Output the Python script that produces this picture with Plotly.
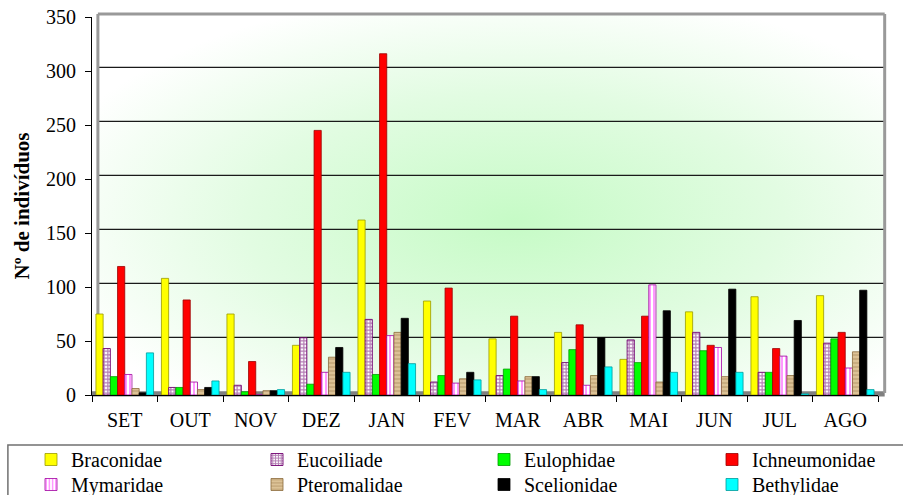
import base64
import plotly.graph_objects as go

months = ["SET", "OUT", "NOV", "DEZ", "JAN", "FEV", "MAR", "ABR", "MAI", "JUN", "JUL", "AGO"]

braconidae    = [75, 108, 75, 46, 162, 87, 52, 58, 33, 77, 91, 92]
eucoiliade    = [43, 7, 9, 53, 70, 12, 18, 30, 51, 58, 21, 48]
eulophidae    = [17, 7, 3, 10, 19, 18, 24, 42, 30, 41, 21, 52]
ichneumonidae = [119, 88, 31, 245, 316, 99, 73, 65, 73, 46, 43, 58]
mymaridae     = [19, 12, 0, 21, 55, 11, 13, 9, 102, 44, 36, 25]
pteromalidae  = [6, 5, 4, 35, 58, 15, 17, 18, 12, 17, 18, 40]
scelionidae   = [2, 7, 4, 44, 71, 21, 17, 53, 78, 98, 69, 97]
bethylidae    = [39, 13, 5, 21, 29, 14, 5, 26, 21, 21, 1, 5]

series = [
    ("Braconidae", braconidae, dict(color="#FFFF00", line=dict(color="#9A9A00", width=0.8))),
    ("Eucoiliade", eucoiliade, dict(color="white", line=dict(color="#700070", width=0.9),
                                    pattern=dict(shape="+", fgcolor="#6A006A", bgcolor="white", size=3.5, solidity=0.6))),
    ("Eulophidae", eulophidae, dict(color="#00FF00", line=dict(color="#009A00", width=0.8))),
    ("Ichneumonidae", ichneumonidae, dict(color="#FF0000", line=dict(color="#9A0000", width=0.8))),
    ("Mymaridae", mymaridae, dict(color="white", line=dict(color="#A000A0", width=0.8),
                                  pattern=dict(shape="|", fgcolor="#FF00FF", bgcolor="white", size=4, solidity=0.4))),
    ("Pteromalidae", pteromalidae, dict(color="#D8BC8C", line=dict(color="#8A6A3A", width=0.8),
                                        pattern=dict(shape="-", fgcolor="#9C7C4C", bgcolor="#DCC296", size=4, solidity=0.3))),
    ("Scelionidae", scelionidae, dict(color="#000000", line=dict(color="#000000", width=0.8))),
    ("Bethylidae", bethylidae, dict(color="#00FFFF", line=dict(color="#009A9A", width=0.8))),
]

legend_ids = ["legend"] + ["legend%d" % i for i in range(2, 9)]

fig = go.Figure()
for (name, vals, marker), lg in zip(series, legend_ids):
    fig.add_trace(go.Bar(name=name, x=months, y=vals, marker=marker, legend=lg))

svg = ("<svg xmlns='http://www.w3.org/2000/svg' width='786' height='378' preserveAspectRatio='none'>"
       "<defs><radialGradient id='g' cx='0.53' cy='0.55' r='0.62'>"
       "<stop offset='0' stop-color='#c6fbc6'/><stop offset='0.55' stop-color='#e2fce2'/>"
       "<stop offset='1' stop-color='#ffffff'/></radialGradient></defs>"
       "<rect width='100%' height='100%' fill='url(#g)'/></svg>")
src = "data:image/svg+xml;base64," + base64.b64encode(svg.encode()).decode()

XR = 1.0085   # right wall (paper)
XL = 0.0075   # left wall (paper)
shapes = []
shapes.append(dict(type="rect", xref="paper", yref="paper", x0=0.0, x1=XR, y0=-0.004, y1=0.010,
                   fillcolor="#808080", line=dict(width=0), layer="below"))
for v in [50, 100, 150, 200, 250, 300]:
    shapes.append(dict(type="line", xref="paper", yref="y", x0=XL, x1=XR, y0=v + 3.3, y1=v + 3.3,
                       line=dict(color="#1a1a1a", width=1.3), layer="below"))
shapes.append(dict(type="line", xref="paper", yref="paper", x0=XL, x1=XR, y0=1.008, y1=1.008,
                   line=dict(color="#999999", width=3), layer="below"))
shapes.append(dict(type="line", xref="paper", yref="paper", x0=XL, x1=XL, y0=0.005, y1=1.008,
                   line=dict(color="#999999", width=3), layer="below"))
shapes.append(dict(type="line", xref="paper", yref="paper", x0=XR, x1=XR, y0=0.005, y1=1.008,
                   line=dict(color="#999999", width=3), layer="below"))
# legend frame
shapes.append(dict(type="rect", xref="paper", yref="paper", x0=-0.107, x1=1.2, y0=-0.6, y1=-0.1323,
                   fillcolor="rgba(0,0,0,0)", line=dict(color="#707070", width=1.5), layer="above"))

col_x = [31, 257, 484, 712]
row_y = [440, 465]
legends = {}
for i, lg in enumerate(legend_ids):
    legends[lg] = dict(orientation="h", xref="container", yref="container", yanchor="top", xanchor="left",
                       x=col_x[i % 4] / 903, y=1 - row_y[i // 4] / 495,
                       bgcolor="rgba(0,0,0,0)", borderwidth=0,
                       font=dict(family="Liberation Serif", size=20, color="black"), itemwidth=30)

fig.update_layout(
    width=903, height=495,
    margin=dict(l=92, r=25, t=17, b=100, autoexpand=False),
    paper_bgcolor="white", plot_bgcolor="white",
    font=dict(family="Liberation Serif", size=20, color="black"),
    barmode="group", bargap=0.12, bargroupgap=0.0,
    images=[dict(source=src, xref="paper", yref="paper", x=XL, y=1.008, sizex=XR - XL, sizey=1.0,
                 sizing="stretch", layer="below")],
    shapes=shapes,
    showlegend=True,
    **legends,
)
fig.update_xaxes(showline=True, linecolor="black", linewidth=1, ticks="outside", tickson="boundaries",
                 ticklen=6, tickcolor="black", showgrid=False, tickfont=dict(size=20), automargin=False,
                 tickangle=0, ticklabelstandoff=7)
fig.update_yaxes(range=[0, 350], tickvals=[0, 50, 100, 150, 200, 250, 300, 350], showgrid=False,
                 showline=True, linecolor="black", linewidth=1, ticks="outside", ticklen=6,
                 tickcolor="black", zeroline=False, tickfont=dict(size=20), automargin=False,
                 ticklabelstandoff=5,
                 title=dict(text="<b>Nº de indivíduos</b>", font=dict(size=21), standoff=10))

fig.write_html("out.html", config={"displayModeBar": False},
               post_script="document.body.style.margin='0px';")
